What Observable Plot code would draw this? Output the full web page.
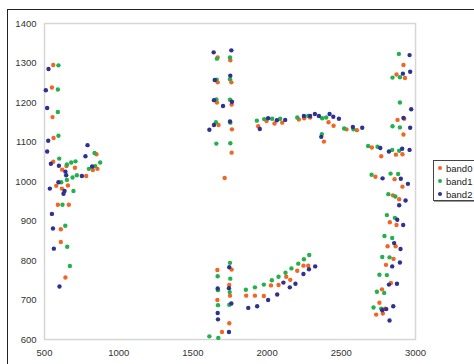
<!DOCTYPE html>
<html>
<head>
<meta charset="utf-8">
<script src="https://cdn.jsdelivr.net/npm/d3@7"></script>
<script src="https://cdn.jsdelivr.net/npm/@observablehq/plot@0.6"></script>
<style>
  html, body { margin: 0; padding: 0; background: #fff; overflow: hidden; }
  #wrap { position: relative; width: 474px; height: 364px; overflow: hidden; }
  #outer { position: absolute; left: 7px; top: 9px; width: 500px; height: 400px; border: 1px solid #222; box-sizing: border-box; }
  #chart { position: absolute; left: 0; top: 0; }
  #legend { position: absolute; left: 433px; top: 160px; width: 50px; height: 41px; border: 1px solid #444; box-shadow: 1px 1px 0 #999; background: #fff; font: 9.5px "Liberation Sans", Arial, sans-serif; color: #222; box-sizing: border-box; }
  #legend .item { position: absolute; left: 4px; height: 12px; line-height: 12px; white-space: nowrap; }
  #legend .dot { display: inline-block; width: 4px; height: 4px; border-radius: 50%; margin-right: 4px; vertical-align: middle; position: relative; top: -1px; }
</style>
</head>
<body>
<div id="wrap">
  <div id="outer"></div>
  <div id="chart"></div>
  <div id="legend"></div>
</div>
<script>
const seriesNames = ["band0", "band1", "band2"];
const seriesColors = ["#f26522", "#22b14c", "#2e3192"];
const xTicks = [500, 1000, 1500, 2000, 2500, 3000];
const yTicks = [600, 700, 800, 900, 1000, 1100, 1200, 1300, 1400];

const band0 = [
  [559,1295],[550,1238],[554,1163],[561,1110],[559,1050],[619,1030],[648,1039],[705,1035],[579,989],[617,982],
  [658,990],[590,941],[664,941],[610,879],[610,847],[641,757],[781,1014],[850,1069],[826,1029],[857,1032],
  [1667,1314],[1667,1251],[1662,1200],[1673,1143],[1752,1307],[1759,1251],[1761,1195],[1763,1132],[1761,1073],[1714,1009],
  [1665,776],[1665,700],[1696,619],[1745,738],[1750,711],[1761,777],[1745,641],
  [1940,1140],[1996,1153],[2050,1147],[2102,1149],[2214,1157],[2250,1160],[2290,1162],[2414,1150],[2448,1141],[2383,1101],[2535,1132],[2605,1130],
  [1859,711],[1918,711],[1978,710],[2026,737],[2077,738],[2129,759],[2156,751],[2203,774],[2245,787],[2277,787],
  [2706,1086],[2769,1064],[2919,1295],[2872,1271],[2929,1262],[2879,1156],[2924,1159],[2919,1119],[2868,1068],[2912,1069],
  [2730,1012],[2859,1006],[2912,987],[2848,965],[2890,955],[2827,897],[2872,890],[2812,836],[2866,836],[2801,789],
  [2852,804],[2774,727],[2834,743],[2757,693],[2795,678],[2735,663],[2780,666]
];
const band1 = [
  [594,1294],[590,1233],[590,1176],[594,1116],[599,1058],[651,1043],[680,1048],[709,1051],[651,1004],[689,1010],
  [718,1016],[613,998],[621,941],[695,976],[640,888],[653,835],[671,786],[837,1072],[875,1048],[799,1032],[842,1039],
  [1662,1311],[1660,1258],[1658,1208],[1655,1150],[1658,1096],[1750,1314],[1750,1259],[1750,1207],[1752,1149],[1752,1097],
  [1667,760],[1669,725],[1669,687],[1611,608],[1671,604],[1750,794],[1752,754],[1748,720],[1745,688],
  [1931,1154],[1980,1158],[2034,1159],[2088,1159],[2203,1162],[2277,1166],[2371,1160],[2398,1162],[2369,1120],[2519,1134],[2582,1132],
  [1857,726],[1918,732],[1978,739],[2032,750],[2077,759],[2124,769],[2164,780],[2210,792],[2248,803],[2284,814],
  [2681,1090],[2744,1088],[2888,1323],[2845,1263],[2895,1264],[2895,1200],[2845,1140],[2895,1137],[2843,1080],[2890,1078],
  [2704,1017],[2832,1020],[2883,1019],[2817,968],[2864,962],[2807,915],[2861,908],[2791,862],[2843,857],[2776,809],
  [2825,808],[2757,764],[2807,763],[2740,721],[2789,718],[2717,681],[2769,678]
];
const band2 = [
  [527,1285],[509,1231],[518,1186],[525,1103],[518,1076],[543,1045],[597,1040],[641,1025],[646,1016],[594,998],
  [536,982],[635,976],[628,969],[550,918],[557,881],[563,830],[601,734],[821,1038],[752,1014],[790,1092],[776,1064],
  [1640,1327],[1647,1257],[1642,1206],[1611,1131],[1642,1143],[1703,1191],[1759,1332],[1752,1268],[1763,1202],[1750,1152],
  [1667,729],[1667,667],[1669,651],[1745,783],[1743,730],[1759,691],[1743,619],
  [1951,1133],[2007,1160],[2066,1155],[2122,1156],[2248,1166],[2290,1166],[2322,1171],[2349,1166],[2421,1171],[2446,1164],[2484,1159],[2365,1113],[2578,1138],[2641,1136],
  [1873,680],[1933,684],[2007,700],[2068,714],[2110,744],[2153,732],[2191,741],[2245,766],[2282,778],[2324,785],
  [2763,1085],[2821,1076],[2960,1320],[2964,1278],[2915,1273],[2971,1183],[2919,1161],[2964,1136],[2910,1083],[2960,1080],
  [2778,1008],[2901,1007],[2949,994],[2933,952],[2890,940],[2877,903],[2917,890],[2856,844],[2899,829],[2843,785],
  [2895,795],[2821,739],[2875,741],[2776,674],[2803,677],[2850,684],[2825,648]
];

const bands = [band0, band1, band2];
const data = bands.flatMap((b, i) => b.map(([x, y]) => ({x, y, band: seriesNames[i]})));

const chart = Plot.plot({
  width: 474,
  height: 364,
  marginLeft: 44,
  marginRight: 59,
  marginTop: 23,
  marginBottom: 25,
  style: { fontFamily: '"Liberation Sans", Arial, sans-serif', fontSize: "9.5px", color: "#333", background: "transparent" },
  x: { domain: [500, 3000], ticks: xTicks, tickSize: 0, tickPadding: 10, label: null, tickFormat: d => String(d) },
  y: { domain: [600, 1400], ticks: yTicks, tickSize: 0, tickPadding: 8, label: null, tickFormat: d => String(d) },
  color: { domain: seriesNames, range: seriesColors },
  marks: [
    Plot.frame({ stroke: "#d6d6d6", strokeWidth: 1.5 }),
    Plot.dot(data, { x: "x", y: "y", fill: "band", r: 2.2, stroke: null })
  ]
});
document.getElementById("chart").appendChild(chart);

const legend = document.getElementById("legend");
seriesNames.forEach((name, i) => {
  const item = document.createElement("div");
  item.className = "item";
  item.style.top = (2 + i * 13) + "px";
  const dot = document.createElement("span");
  dot.className = "dot";
  dot.style.background = seriesColors[i];
  item.appendChild(dot);
  item.appendChild(document.createTextNode(name));
  legend.appendChild(item);
});
</script>
</body>
</html>
